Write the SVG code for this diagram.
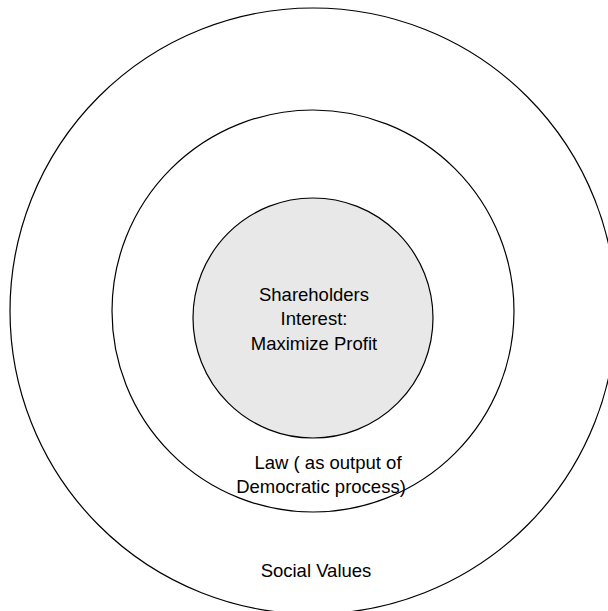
<svg xmlns="http://www.w3.org/2000/svg" width="608" height="611" viewBox="0 0 608 611">
<style>
.ring{fill:none;stroke:#000;stroke-width:1.2}
.core{fill:#e8e8e8;stroke:#000;stroke-width:1.2}
.t{font-family:"Liberation Sans",Arial,sans-serif;font-size:18.5px;fill:#000;text-anchor:middle}
</style>
<rect width="608" height="611" fill="#fff"/>
<g id="social-values">
<circle class="ring" cx="313" cy="311" r="303"/>
<text class="t" x="316" y="577">Social Values</text>
</g>
<g id="law">
<circle class="ring" cx="313" cy="311" r="201"/>
<text class="t" x="328" y="469">Law ( as output of</text>
<text class="t" x="321" y="493">Democratic process)</text>
</g>
<g id="shareholders">
<circle class="core" cx="313" cy="318" r="120"/>
<text class="t" x="314" y="301">Shareholders</text>
<text class="t" x="314" y="325">Interest:</text>
<text class="t" x="314" y="350">Maximize Profit</text>
</g>
<g id="connectors"/>
</svg>
